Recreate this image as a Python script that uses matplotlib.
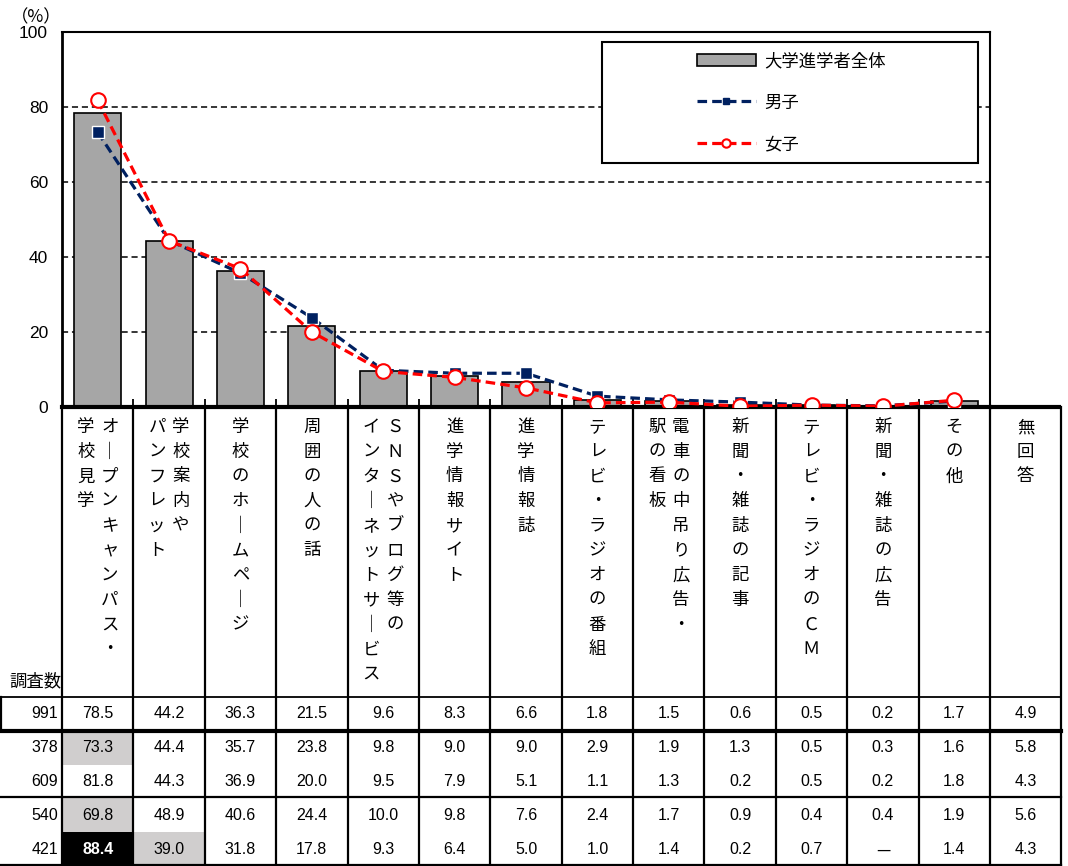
import matplotlib
matplotlib.use('Agg')
import matplotlib.pyplot as plt
from matplotlib.patches import Rectangle
from matplotlib.lines import Line2D

plt.rcParams['font.family'] = ['Noto Sans CJK JP', 'DejaVu Sans']

# --- data ---
# (right column, left column) of the vertical labels
labels = [
    ('オープンキャンパス・', '学校見学'),
    ('学校案内や', 'パンフレット'),
    ('学校のホームページ', ''),
    ('周囲の人の話', ''),
    ('ＳＮＳやブログ等の', 'インターネットサービス'),
    ('進学情報サイト', ''),
    ('進学情報誌', ''),
    ('テレビ・ラジオの番組', ''),
    ('電車の中吊り広告・', '駅の看板'),
    ('新聞・雑誌の記事', ''),
    ('テレビ・ラジオのＣＭ', ''),
    ('新聞・雑誌の広告', ''),
    ('その他', ''),
    ('無回答', ''),
]
total = [78.5, 44.2, 36.3, 21.5, 9.6, 8.3, 6.6, 1.8, 1.5, 0.6, 0.5, 0.2, 1.7, 4.9]
male = [73.3, 44.4, 35.7, 23.8, 9.8, 9.0, 9.0, 2.9, 1.9, 1.3, 0.5, 0.3, 1.6, 5.8]
female = [81.8, 44.3, 36.9, 20.0, 9.5, 7.9, 5.1, 1.1, 1.3, 0.2, 0.5, 0.2, 1.8, 4.3]
grp3 = [69.8, 48.9, 40.6, 24.4, 10.0, 9.8, 7.6, 2.4, 1.7, 0.9, 0.4, 0.4, 1.9, 5.6]
grp4 = [88.4, 39.0, 31.8, 17.8, 9.3, 6.4, 5.0, 1.0, 1.4, 0.2, 0.7, None, 1.4, 4.3]
counts = [991, 378, 609, 540, 421]
legend_labels = ['大学進学者全体', '男子', '女子']
n_chart = 13  # 無回答 is only in the table

bar_color = '#a6a6a6'
navy = '#002060'
red = '#ff0000'

W, H = 1068, 866
L, R, T, B = 62, 990, 32, 407
cw = (R - L) / n_chart

fig = plt.figure(figsize=(W / 100, H / 100), dpi=100)
over = fig.add_axes([0, 0, 1, 1], zorder=0)
over.set_xlim(0, W)
over.set_ylim(H, 0)
over.axis('off')

ax = fig.add_axes([L / W, 1 - B / H, (R - L) / W, (B - T) / H], zorder=1)
x = list(range(n_chart))
ax.bar(x, total[:n_chart], width=0.66, color=bar_color, edgecolor='black', lw=1.2, zorder=2)
ax.plot(x, male[:n_chart], color=navy, lw=2.3, ls=(0, (3, 1.6)), marker='s', ms=9,
        mfc=navy, mec='white', mew=1, zorder=3)
ax.plot(x, female[:n_chart], color=red, lw=2.3, ls=(0, (3, 1.6)), marker='o', ms=10.5,
        mfc='white', mec=red, mew=1.5, zorder=4)

ax.set_xlim(-0.5, n_chart - 0.5)
ax.set_ylim(0, 100)
ax.set_yticks([0, 20, 40, 60, 80, 100])
ax.set_yticklabels(['0', '20', '40', '60', '80', '100'], fontfamily='Liberation Sans', fontsize=12.5)
ax.tick_params(axis='y', length=0, pad=10)
ax.set_xticks([k - 0.5 for k in range(1, n_chart)])
ax.set_xticklabels([])
ax.tick_params(axis='x', direction='in', length=6, width=1.3)
for g in [20, 40, 60, 80]:
    ax.axhline(g, color='black', lw=1.1, ls=(0, (4, 2.5)), zorder=1)
ax.spines['left'].set_linewidth(2)
ax.spines['top'].set_linewidth(1.5)
ax.spines['right'].set_linewidth(1.5)
ax.spines['bottom'].set_linewidth(3)

over.text(36, 17, '（%）', ha='center', va='center', fontsize=12.5)

# legend box
ax.add_patch(Rectangle((0.582, 0.651), 0.405, 0.322, transform=ax.transAxes,
                       facecolor='white', edgecolor='black', lw=1.5, zorder=5))
handles = [
    Rectangle((0, 0), 1, 1, facecolor=bar_color, edgecolor='black', lw=1.2),
    Line2D([], [], color=navy, lw=2.3, ls=(0, (3, 1.6)), marker='s', ms=5, mfc=navy, mec=navy),
    Line2D([], [], color=red, lw=2.3, ls=(0, (3, 1.6)), marker='o', ms=6, mfc='white', mec=red, mew=1.5),
]
leg = ax.legend(handles, legend_labels, loc='center', bbox_to_anchor=(0.786, 0.812),
                frameon=False, fontsize=12.5, handlelength=3.4, handletextpad=0.5,
                labelspacing=1.35)
leg.set_zorder(6)

# --- vertical category labels ---
step = 24.7
top_char = 427
for i, (rcol, lcol) in enumerate(labels):
    cx = L + (i + 0.5) * cw
    cols = [(rcol, cx)] if not lcol else [(rcol, cx + 12), (lcol, cx - 12)]
    for txt, px in cols:
        for j, ch in enumerate(txt):
            if ch == 'ー':
                ch = '｜'
            over.text(px, top_char + j * step, ch, ha='center', va='center', fontsize=12.5)

# --- table ---
right_edge = L + (n_chart + 1) * cw
over.plot([R, right_edge], [B, B], color='black', lw=3, solid_capstyle='butt')
for k in range(n_chart + 2):
    xx = L + k * cw
    over.plot([xx, xx], [B, H], color='black', lw=1.6)
over.plot([1, 1], [697, 730], color='black', lw=1.6)
over.plot([0, right_edge], [697, 697], color='black', lw=1.3)
over.plot([0, right_edge], [730.5, 730.5], color='black', lw=3)
over.plot([0, right_edge], [797, 797], color='black', lw=1.6)
over.plot([0, right_edge], [865, 865], color='black', lw=1.6)

over.text(35, 681, '調査数', ha='center', va='center', fontsize=12.5)

row_y = [713, 748, 781, 815, 850]
row_bounds = [(697, 730), (732, 765), (765, 797), (798, 832), (832, 865)]
rows = [total, male, female, grp3, grp4]
# shaded cells: (row, column, colour)
shade = [(1, 0, '#d0cece'), (3, 0, '#d0cece'), (4, 0, 'black'), (4, 1, '#d0cece')]
for r, c, col in shade:
    y0, y1 = row_bounds[r]
    over.add_patch(Rectangle((L + c * cw + 1, y0), cw - 2, y1 - y0, facecolor=col,
                             edgecolor='none', zorder=0))

numfont = ['Liberation Sans', 'DejaVu Sans']
for r, (n, vals) in enumerate(zip(counts, rows)):
    over.text(58, row_y[r], str(n), ha='right', va='center', fontsize=11.5, family=numfont)
    for c, v in enumerate(vals):
        s = '—' if v is None else f'{v:.1f}'
        dark = any(rr == r and cc == c and col == 'black' for rr, cc, col in shade)
        over.text(L + (c + 0.5) * cw, row_y[r], s, ha='center', va='center', fontsize=11.5,
                  family=['Noto Sans CJK JP'] if v is None else numfont,
                  color='white' if dark else 'black',
                  fontweight='bold' if dark else 'normal')

fig.savefig('out.png', dpi=100)
